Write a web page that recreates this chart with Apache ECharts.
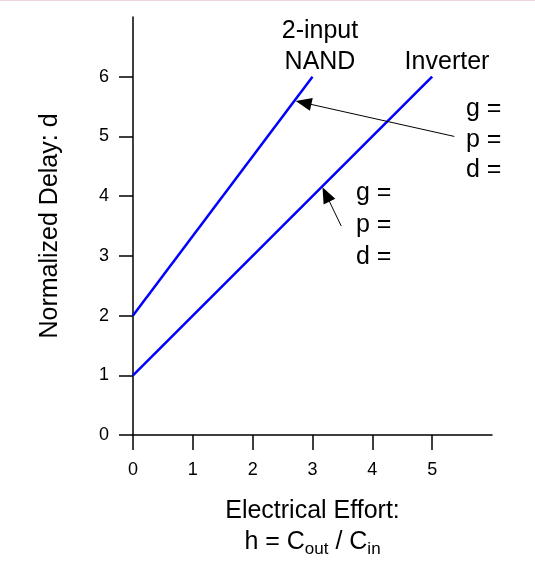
<!DOCTYPE html>
<html>
<head>
<meta charset="utf-8">
<script src="https://cdn.jsdelivr.net/npm/echarts@6/dist/echarts.min.js"></script>
<style>
  html, body { margin: 0; padding: 0; background: #fff; }
  #topline { position: absolute; left: 0; top: 0; width: 535px; height: 1px; background: #f0d6d8; z-index: 2; }
  #chart { width: 535px; height: 571px; }
</style>
</head>
<body>
<div id="topline"></div>
<div id="chart"></div>
<script>
// ---- data ----
const nandEffort = [0, 3];
const nandDelay = [2, 6];
const invEffort = [0, 5];
const invDelay = [1, 6];
const xTickValues = [0, 1, 2, 3, 4, 5];
const yTickValues = [0, 1, 2, 3, 4, 5, 6];
// annotation arrows: [tail, arrow-head centre] in data units (effort, delay)
const nandArrow = [[5.37, 5.0], [2.85, 5.565]];
const invArrow = [[3.48, 3.5], [3.225, 4.03]];

const FONT = '"Liberation Sans", Arial, Helvetica, sans-serif';
const chart = echarts.init(document.getElementById('chart'), null, { renderer: 'canvas' });

function pairs(xs, ys) { return xs.map((x, i) => [x, ys[i]]); }

const option = {
  animation: false,
  backgroundColor: '#ffffff',
  grid: { left: 133, top: 17, right: 43, bottom: 136, containLabel: false },
  xAxis: {
    type: 'value', min: 0, max: 6, interval: 1,
    axisLine: { onZero: false, lineStyle: { color: '#000', width: 1.5 } },
    axisTick: { show: true, inside: false, length: 15, customValues: xTickValues, lineStyle: { color: '#000', width: 1.5 } },
    axisLabel: { customValues: xTickValues, margin: 26, color: '#000', fontSize: 18, fontFamily: FONT },
    splitLine: { show: false },
    name: 'Electrical Effort:\nh = C{sub|out} / C{sub|in}',
    nameLocation: 'middle',
    nameGap: 61,
    nameTextStyle: {
      color: '#000', fontSize: 25, fontFamily: FONT, lineHeight: 31,
      rich: { sub: { fontSize: 17, fontFamily: FONT, color: '#000', verticalAlign: 'bottom', lineHeight: 22 } }
    }
  },
  yAxis: {
    type: 'value', min: 0, max: 7, interval: 1,
    axisLine: { onZero: false, lineStyle: { color: '#000', width: 1.5 } },
    axisTick: { show: true, inside: false, length: 14, customValues: yTickValues, lineStyle: { color: '#000', width: 1.5 } },
    axisLabel: { customValues: yTickValues, margin: 24, color: '#000', fontSize: 18, fontFamily: FONT },
    splitLine: { show: false },
    name: 'Normalized Delay: d',
    nameLocation: 'middle',
    nameGap: 70,
    nameTextStyle: { color: '#000', fontSize: 25, fontFamily: FONT }
  },
  series: [
    {
      name: '2-input NAND', type: 'line', data: pairs(nandEffort, nandDelay),
      showSymbol: false, lineStyle: { color: '#0000ff', width: 2.5 }, silent: true,
      markLine: {
        silent: true, symbol: ['none', 'triangle'], symbolSize: [13, 16],
        label: { show: false },
        lineStyle: { color: '#000', width: 1, type: 'solid' },
        emphasis: { disabled: true },
        data: [
          [{ coord: nandArrow[0] }, { coord: nandArrow[1] }],
          [{ coord: invArrow[0] }, { coord: invArrow[1] }]
        ]
      }
    },
    {
      name: 'Inverter', type: 'line', data: pairs(invEffort, invDelay),
      showSymbol: false, lineStyle: { color: '#0000ff', width: 2.5 }, silent: true
    }
  ],
  graphic: [
    { type: 'text', x: 320, y: 47, style: { text: '2-input\nNAND', font: '25px ' + FONT, fill: '#000', align: 'center', verticalAlign: 'middle', lineHeight: 31 } },
    { type: 'text', x: 447, y: 62, style: { text: 'Inverter', font: '25px ' + FONT, fill: '#000', align: 'center', verticalAlign: 'middle' } },
    { type: 'text', x: 466, y: 140, style: { text: 'g =\np =\nd =', font: '25px ' + FONT, fill: '#000', align: 'left', verticalAlign: 'middle', lineHeight: 30.5 } },
    { type: 'text', x: 356, y: 225, style: { text: 'g =\np =\nd =', font: '25px ' + FONT, fill: '#000', align: 'left', verticalAlign: 'middle', lineHeight: 32 } }
  ]
};
chart.setOption(option);
</script>
</body>
</html>
